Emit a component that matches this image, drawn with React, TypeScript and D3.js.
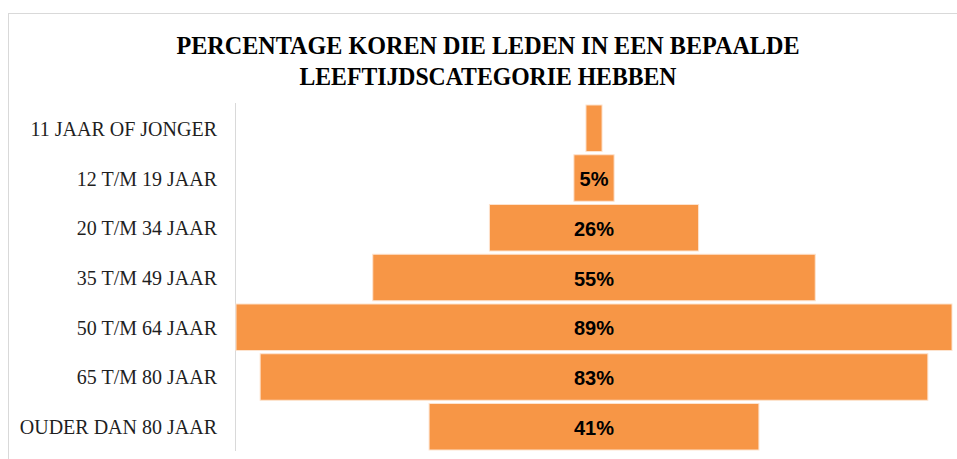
import { useEffect, useRef } from "react"
import * as d3 from "d3"

const categories = [
  "11 JAAR OF JONGER",
  "12 T/M 19 JAAR",
  "20 T/M 34 JAAR",
  "35 T/M 49 JAAR",
  "50 T/M 64 JAAR",
  "65 T/M 80 JAAR",
  "OUDER DAN 80 JAAR",
]
const values = [2, 5, 26, 55, 89, 83, 41]
// the smallest bar has no data label in the original
const valueLabels = ["", "5%", "26%", "55%", "89%", "83%", "41%"]
const titleLines = [
  "PERCENTAGE KOREN DIE LEDEN IN EEN BEPAALDE",
  "LEEFTIJDSCATEGORIE HEBBEN",
]
// condensed title font: squeeze the lines to the original widths
const titleWidths = [623, 377]

const width = 957
const height = 459

const App = () => {
  const svgRef = useRef<SVGSVGElement>(null)

  useEffect(() => {
    const svg = d3.select(svgRef.current)
    svg.selectAll("*").remove()

    const plotLeft = 236
    const plotRight = 952
    const center = (plotLeft + plotRight) / 2

    const y = d3.scaleBand<string>()
      .domain(categories)
      .range([103.5, 451.5])
      .paddingInner(0.065)
      .paddingOuter(0.03)

    const w = d3.scaleLinear()
      .domain([0, d3.max(values) as number])
      .range([0, plotRight - plotLeft])

    // chart frame
    svg.append("rect")
      .attr("x", 8.5)
      .attr("y", 13.5)
      .attr("width", 970)
      .attr("height", 470)
      .attr("fill", "#fff")
      .attr("stroke", "#d9d9d9")

    // title
    svg.append("g")
      .selectAll("text")
      .data(titleLines)
      .enter()
      .append("text")
      .attr("x", 488)
      .attr("y", (d, i) => 53.5 + i * 31)
      .attr("text-anchor", "middle")
      .attr("font-family", "'Liberation Serif', serif")
      .attr("font-weight", "bold")
      .attr("font-size", "26px")
      .attr("fill", "#000")
      .attr("textLength", (d, i) => titleWidths[i])
      .attr("lengthAdjust", "spacingAndGlyphs")
      .text(d => d)

    // category axis
    svg.append("line")
      .attr("x1", 235.5)
      .attr("x2", 235.5)
      .attr("y1", 103)
      .attr("y2", 451)
      .attr("stroke", "#d9d9d9")

    svg.append("g")
      .selectAll("text")
      .data(categories)
      .enter()
      .append("text")
      .attr("x", 217)
      .attr("y", d => (y(d) as number) + y.bandwidth() / 2 + 7.5)
      .attr("text-anchor", "end")
      .attr("font-family", "'Liberation Serif', serif")
      .attr("font-size", "20px")
      .attr("fill", "#1f1f1f")
      .text(d => d)

    const rows = svg.append("g")
      .selectAll("g")
      .data(values)
      .enter()
      .append("g")

    rows.append("rect")
      .attr("x", d => center - w(d) / 2)
      .attr("y", (d, i) => y(categories[i]) as number)
      .attr("width", d => w(d))
      .attr("height", y.bandwidth())
      .attr("fill", "#f79646")
      .attr("stroke", "#fde3cf")
      .attr("stroke-width", 1)

    rows.append("text")
      .attr("x", center)
      .attr("y", (d, i) => (y(categories[i]) as number) + y.bandwidth() / 2 + 8)
      .attr("text-anchor", "middle")
      .attr("font-family", "'Liberation Sans', sans-serif")
      .attr("font-weight", "bold")
      .attr("font-size", "20px")
      .attr("fill", "#000")
      .text((d, i) => valueLabels[i])
  }, [])

  return (
    <svg
      ref={svgRef}
      width={width}
      height={height}
      style={{ position: "absolute", left: 0, top: 0 }}
    />
  )
}

export default App
